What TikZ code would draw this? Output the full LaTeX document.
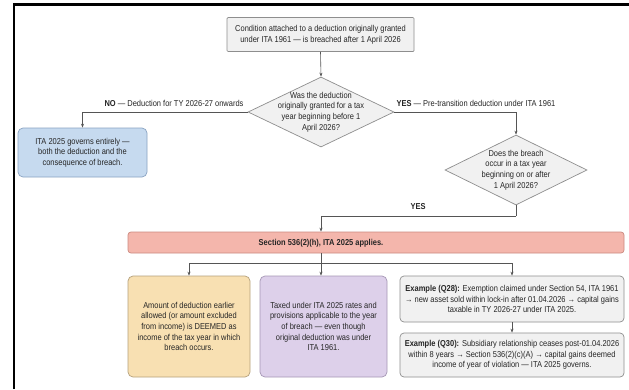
\documentclass[tikz,border=0pt]{standalone}
\usepackage{fontspec}
\setmainfont{Liberation Sans}[FakeStretch=0.87]
\usetikzlibrary{shapes.geometric,arrows.meta,calc}
\definecolor{txt}{HTML}{262626}
\definecolor{lin}{HTML}{555555}
\definecolor{grayf}{HTML}{F1F1F1}
\definecolor{grayd}{HTML}{8E8E8E}
\definecolor{bluef}{HTML}{C6DAEF}
\definecolor{blued}{HTML}{8AA3C2}
\definecolor{yelf}{HTML}{F8E0B2}
\definecolor{yeld}{HTML}{B5A17C}
\definecolor{purf}{HTML}{DDD0EA}
\definecolor{purd}{HTML}{A597B5}
\definecolor{redf}{HTML}{F4B6AC}
\definecolor{redd}{HTML}{CC8A80}
\tikzset{
  base/.style={font=\fontsize{8.6}{10.6}\selectfont, text=txt, align=center, inner sep=0pt},
  gbox/.style={base, draw=grayd, fill=grayf, line width=0.7pt, rounded corners=1pt},
  rbox/.style={base, line width=0.7pt, rounded corners=5pt},
  dia/.style={diamond, draw=grayd, fill=grayf, line width=0.7pt, inner sep=0pt},
  dtext/.style={base},
  lbl/.style={base},
  arr/.style={draw=lin, line width=0.6pt, -{Stealth[length=4pt,width=3pt]}},
  ln/.style={draw=lin, line width=0.6pt}
}
\begin{document}
\begin{tikzpicture}[x=1pt,y=-1pt]
\useasboundingbox (0,0) rectangle (629,389);
\fill[white] (0,0) rectangle (629,389);
\draw[line width=2.8pt] (14,389) -- (14,4.5) -- (629,4.5);

\node[gbox, minimum width=187pt, minimum height=34pt] (top) at (320.5,34.5)
  {Condition attached to a deduction originally granted\\under ITA 1961 — is breached after 1 April 2026};

\node[dia, minimum width=146pt, minimum height=70pt] (d1) at (321,112) {};
\node[dtext] (d1t) at (d1) {Was the deduction\\originally granted for a tax\\year beginning before 1\\April 2026?};

\node[rbox, draw=blued, fill=bluef, minimum width=129pt, minimum height=49pt] (blue) at (82.5,152.5)
  {ITA 2025 governs entirely —\\both the deduction and the\\consequence of breach.};

\node[dia, minimum width=142pt, minimum height=70pt] (d2) at (516,170) {};
\node[dtext] (d2t) at (d2) {Does the breach\\occur in a tax year\\beginning on or after\\1 April 2026?};

\node[rbox, draw=redd, fill=redf, rounded corners=3pt, minimum width=496pt, minimum height=21pt] (bar) at (376,242.5) {};
\node[base] (sect) at (321,243) {\textbf{Section 536(2)(h), ITA 2025 applies.}};

\node[rbox, draw=yeld, fill=yelf, minimum width=122pt, minimum height=101pt] (yel) at (189,326.5)
  {Amount of deduction earlier\\allowed (or amount excluded\\from income) is DEEMED as\\income of the tax year in which\\breach occurs.};

\node[rbox, draw=purd, fill=purf, minimum width=127pt, minimum height=101pt] (pur) at (323.5,326.5)
  {Taxed under ITA 2025 rates and\\provisions applicable to the year\\of breach — even though\\original deduction was under\\ITA 1961.};

\node[gbox, rounded corners=4pt, minimum width=224pt, minimum height=46pt] (q28) at (512,299)
  {\textbf{Example (Q28):} Exemption claimed under Section 54, ITA 1961\\→ new asset sold within lock-in after 01.04.2026 → capital gains\\taxable in TY 2026-27 under ITA 2025.};

\node[gbox, rounded corners=4pt, minimum width=224pt, minimum height=44pt] (q30) at (512,355)
  {\textbf{Example (Q30):} Subsidiary relationship ceases post-01.04.2026\\within 8 years → Section 536(2)(c)(A) → capital gains deemed\\income of year of violation — ITA 2025 governs.};

% connectors
\draw[arr] (top.south) -- (d1.north);
\draw[arr] (d1.west) -| (blue.north);
\node[lbl] (nolbl) at (174,103) {\textbf{NO} — Deduction for TY 2026-27 onwards};
\draw[arr] (d1.east) -| (d2.north);
\node[lbl] (yeslbl) at (476,103) {\textbf{YES} — Pre-transition deduction under ITA 1961};

\coordinate (c2) at (516,216);
\draw[ln] (d2.south) -- (c2);
\draw[arr] (c2) -| (bar.north -| sect);
\node[lbl] (yes2) at (418,207) {\textbf{YES}};

\coordinate (split) at (321,263);
\draw[ln] (bar.south -| sect) -- (split);
\draw[arr] (split) -| (yel.north);
\draw[arr] (split) -- (split |- pur.north);
\draw[arr] (split) -| (q28.north);
\draw[arr] (q28.south) -- (q30.north);
\end{tikzpicture}
\end{document}
